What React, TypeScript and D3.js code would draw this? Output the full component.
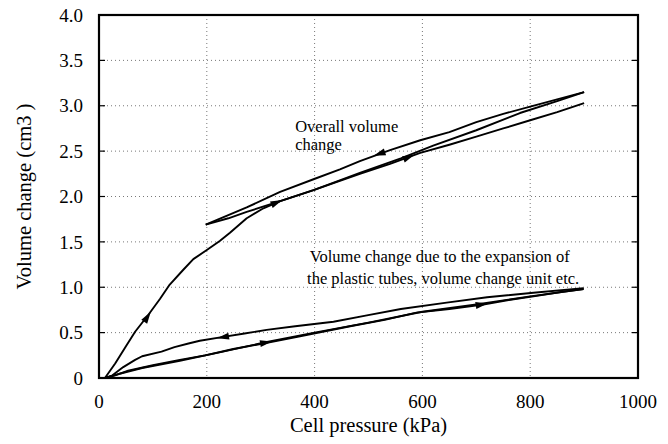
import React from "react";
import * as d3 from "d3";

type Pt = [number, number];

const xTicks = [0, 200, 400, 600, 800, 1000];
const yTicks = [0, 0.5, 1.0, 1.5, 2.0, 2.5, 3.0, 3.5, 4.0];

// overall volume change: first loading, unloading, reloading
const overallLoading: Pt[] = [
  [0, 0], [11, 0], [30, 0.16], [50, 0.35], [67, 0.51], [92, 0.7], [113, 0.87],
  [130, 1.02], [156, 1.19], [175, 1.31], [200, 1.41], [224, 1.51], [243, 1.6],
  [274, 1.76], [305, 1.87], [336, 1.95], [398, 2.07], [484, 2.25], [540, 2.36],
  [596, 2.48], [650, 2.57], [700, 2.66], [750, 2.75], [800, 2.84], [850, 2.93], [900, 3.03],
];
const overallUnloading: Pt[] = [
  [900, 3.15], [850, 3.07], [800, 2.99], [750, 2.91], [700, 2.82], [650, 2.71],
  [596, 2.62], [540, 2.51], [484, 2.39], [447, 2.3], [398, 2.19], [336, 2.05],
  [274, 1.88], [230, 1.77], [198, 1.69],
];
const overallReloading: Pt[] = [
  [198, 1.69], [240, 1.76], [274, 1.83], [342, 1.96], [398, 2.07], [484, 2.26],
  [560, 2.42], [620, 2.56], [700, 2.73], [781, 2.92], [850, 3.05], [900, 3.15],
];

// apparatus: plastic tubes, volume change unit
const tubeLoading: Pt[] = [
  [0, 0], [11, 0], [30, 0.03], [54, 0.08], [100, 0.14], [150, 0.2], [197, 0.25],
  [249, 0.32], [314, 0.39], [373, 0.46], [466, 0.57], [530, 0.64], [589, 0.72],
  [650, 0.76], [713, 0.81], [760, 0.86], [806, 0.9], [860, 0.95], [899, 0.98],
];
const tubeUnloading: Pt[] = [
  [899, 0.99], [806, 0.94], [720, 0.89], [645, 0.83], [560, 0.76], [497, 0.69],
  [435, 0.62], [364, 0.57], [311, 0.53], [270, 0.49], [228, 0.45], [187, 0.41],
  [166, 0.38], [140, 0.34], [116, 0.29], [80, 0.24], [67, 0.2], [45, 0.12],
  [25, 0.03], [12, 0],
];
const tubeReloading: Pt[] = [
  [12, 0], [40, 0.05], [80, 0.11], [150, 0.19], [230, 0.29], [314, 0.4], [400, 0.5],
  [500, 0.61], [600, 0.73], [700, 0.81], [800, 0.9], [899, 0.98],
];

const series = [overallLoading, overallUnloading, overallReloading, tubeLoading, tubeUnloading, tubeReloading];

// arrowheads: from -> to (direction of travel)
const arrows: [Pt, Pt][] = [
  [[85, 0.63], [95, 0.72]],
  [[530, 2.49], [510, 2.45]],
  [[565, 2.41], [585, 2.46]],
  [[320, 1.91], [340, 1.96]],
  [[240, 0.46], [220, 0.44]],
  [[300, 0.38], [320, 0.4]],
  [[700, 0.8], [720, 0.82]],
];

const W = 668;
const H = 444;
const left = 99;
const right = 638;
const top = 15;
const bottom = 378;
const font = { fontFamily: "'Liberation Serif', 'Times New Roman', Times, serif" };

export default function App() {
  const x = d3.scaleLinear().domain([0, 1000]).range([left, right]);
  const y = d3.scaleLinear().domain([0, 4]).range([bottom, top]);
  const line = d3.line<Pt>().x((d) => x(d[0])).y((d) => y(d[1]));

  return (
    <svg width={W} height={H} style={{ position: "absolute", left: 0, top: 0, background: "#fff" }}>
      {/* grid */}
      {xTicks.slice(1, -1).map((t) => (
        <line key={`gx-${t}`} x1={x(t)} x2={x(t)} y1={top} y2={bottom} stroke="#555" strokeWidth={0.8} strokeDasharray="1,3" />
      ))}
      {yTicks.slice(1, -1).map((t) => (
        <line key={`gy-${t}`} x1={left} x2={right} y1={y(t)} y2={y(t)} stroke="#555" strokeWidth={0.8} strokeDasharray="1,3" />
      ))}

      {/* inner tick marks */}
      {yTicks.map((t) => (
        <g key={`ty-${t}`}>
          <line x1={left} x2={left + 6} y1={y(t)} y2={y(t)} stroke="#000" strokeWidth={1.2} />
          <line x1={right - 6} x2={right} y1={y(t)} y2={y(t)} stroke="#000" strokeWidth={1.2} />
        </g>
      ))}

      {/* curves */}
      {series.map((s, i) => (
        <path key={`s-${i}`} d={line(s) ?? ""} fill="none" stroke="#000" strokeWidth={1.9} strokeLinejoin="round" />
      ))}

      {/* arrowheads */}
      {arrows.map(([a, b], i) => {
        const x1 = x(a[0]), y1 = y(a[1]), x2 = x(b[0]), y2 = y(b[1]);
        const ang = (Math.atan2(y2 - y1, x2 - x1) * 180) / Math.PI;
        return (
          <path key={`a-${i}`} d="M6,0 L-6,-3.5 L-6,3.5 Z" fill="#000"
            transform={`translate(${(x1 + x2) / 2},${(y1 + y2) / 2}) rotate(${ang})`} />
        );
      })}

      {/* frame */}
      <rect x={left} y={top} width={right - left} height={bottom - top} fill="none" stroke="#000" strokeWidth={2.2} />

      {/* tick labels */}
      {xTicks.map((t) => (
        <text key={`lx-${t}`} x={x(t)} y={408} textAnchor="middle" style={font} fontSize={19} fill="#000">
          {t}
        </text>
      ))}
      {yTicks.map((t) => (
        <text key={`ly-${t}`} x={83} y={y(t)} dy="0.35em" textAnchor="end" style={font} fontSize={19} fill="#000">
          {t === 0 ? "0" : t.toFixed(1)}
        </text>
      ))}

      {/* axis titles */}
      <text x={(left + right) / 2} y={432} textAnchor="middle" style={font} fontSize={20.5} fill="#000">
        Cell pressure (kPa)
      </text>
      <text transform={`translate(31,${(top + bottom) / 2}) rotate(-90)`} textAnchor="middle" style={font} fontSize={20.5} fill="#000">
        Volume change (cm3 )
      </text>

      {/* annotations */}
      <text style={font} fontSize={16.5} fill="#000">
        <tspan x={x(364)} y={y(2.71)}>Overall volume</tspan>
        <tspan x={x(364)} y={y(2.51)}>change</tspan>
      </text>
      <text style={font} fontSize={16.5} fill="#000">
        <tspan x={x(391)} y={y(1.28)}>Volume change due to the expansion of</tspan>
        <tspan x={x(386)} y={y(1.04)}>the plastic tubes, volume change unit etc.</tspan>
      </text>
    </svg>
  );
}
